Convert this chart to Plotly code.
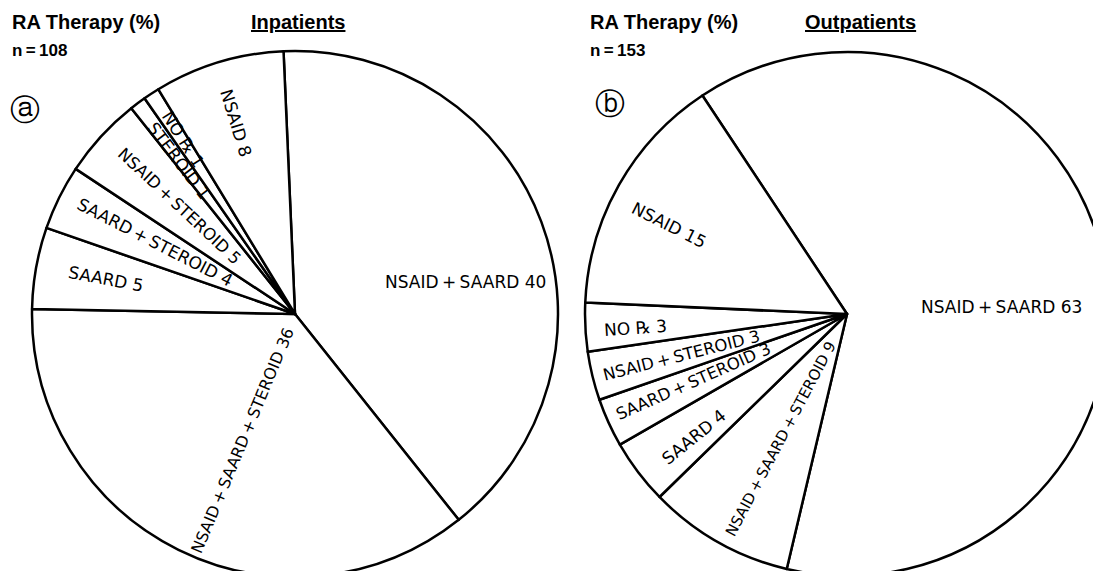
import math
import plotly.graph_objects as go

W, H = 1101, 571
OFF = 8  # page body margin: the figure is drawn 8px right/down of the window origin

# ---------------- data ----------------
in_labels = ["NSAID + SAARD", "NSAID + SAARD + STEROID", "SAARD", "SAARD + STEROID",
             "NSAID + STEROID", "STEROID", "NO ℞", "NSAID"]
in_values = [40, 36, 5, 4, 5, 1, 1, 8]
in_n = 108

out_labels = ["NSAID + SAARD", "NSAID + SAARD + STEROID", "SAARD", "SAARD + STEROID",
              "NSAID + STEROID", "NO ℞", "NSAID"]
out_values = [63, 9, 4, 3, 3, 3, 15]
out_n = 153

# ---------------- layout / style config ----------------
FONT = "DejaVu Sans"
TFONT = "Liberation Sans"

# pie geometry in window pixels (from top-left): centre x, centre y, radius, rotation
PIES = [
    dict(cx=295, cy=314, r=263, rotation=-2.5),
    dict(cx=847, cy=314, r=262, rotation=-33.5),
]
# per-label placement: (angle offset deg, radius fraction, orientation, font size)
in_label_style = [(-10, 0.66, "h", 17), (3.7, 0.52, "r", 16), (-0.5, 0.73, "r", 17),
                  (-0.9, 0.60, "r", 17), (-0.6, 0.60, "r", 16.5), (0.5, 0.73, "r", 17),
                  (-0.5, 0.79, "r", 17), (0.3, 0.76, "r", 17)]
out_label_style = [(-7.5, 0.59, "h", 17), (1.6, 0.54, "r", 15), (1.7, 0.75, "r", 17),
                   (-0.7, 0.64, "r", 16.5), (0.5, 0.65, "r", 16.5), (0.9, 0.81, "r", 17),
                   (2.8, 0.76, "r", 17)]

TS = "\u2009"  # thin space used around "+" and "="


def px_to_paper(X, Y):
    return (X - OFF) / W, 1 - (Y - OFF) / H


def domain_of(p):
    fx = p["cx"] - OFF
    fyb = H - (p["cy"] - OFF)
    return dict(x=[max(0, (fx - p["r"]) / W), min(1, (fx + p["r"]) / W)],
                y=[max(0, (fyb - p["r"]) / H), min(1, (fyb + p["r"]) / H)])


fig = go.Figure()
for p, labels, values in [(PIES[0], in_labels, in_values), (PIES[1], out_labels, out_values)]:
    fig.add_trace(go.Pie(
        labels=labels, values=values, sort=False, direction="clockwise",
        rotation=p["rotation"], domain=domain_of(p),
        marker=dict(colors=["white"] * len(values), line=dict(color="black", width=2.5)),
        textinfo="none", hoverinfo="skip", showlegend=False,
    ))

annotations = []


def add_labels(p, labels, values, styles):
    total = sum(values)
    start = 90 - p["rotation"]
    cum = 0
    for lab, v, (doff, frac, orient, size) in zip(labels, values, styles):
        mid = start - (cum + v / 2) / total * 360 + doff
        cum += v
        th = math.radians(mid)
        X = p["cx"] + p["r"] * frac * math.cos(th)
        Y = p["cy"] - p["r"] * frac * math.sin(th)
        x, y = px_to_paper(X, Y)
        ang = 0 if orient == "h" else math.degrees(math.atan2(math.sin(th), -math.cos(th)))
        text = f"{lab} {v}".replace(" + ", f"{TS}+{TS}")
        annotations.append(dict(
            x=x, y=y, xref="paper", yref="paper", text=text,
            showarrow=False, textangle=ang, xanchor="center", yanchor="middle",
            font=dict(family=FONT, size=size, color="black")))


add_labels(PIES[0], in_labels, in_values, in_label_style)
add_labels(PIES[1], out_labels, out_values, out_label_style)


def txt(X, Y, text, size, bold=True, anchor="left", family=TFONT):
    x, y = px_to_paper(X, Y)
    annotations.append(dict(
        x=x, y=y, xref="paper", yref="paper", showarrow=False,
        text=(f"<b>{text}</b>" if bold else text), xanchor=anchor, yanchor="middle",
        font=dict(family=family, size=size, color="black")))


txt(10, 22, "RA Therapy (%)", 20)
txt(10, 50, f"n{TS}={TS}{in_n}", 17)
txt(298, 22, "<u>Inpatients</u>", 20, anchor="center")
txt(25, 109, "ⓐ", 30, bold=False, anchor="center", family="DejaVu Sans")

txt(588, 22, "RA Therapy (%)", 20)
txt(588, 50, f"n{TS}={TS}{out_n}", 17)
txt(860, 22, "<u>Outpatients</u>", 20, anchor="center")
txt(610, 103, "ⓑ", 30, bold=False, anchor="center", family="DejaVu Sans")

fig.update_layout(
    width=W, height=H, margin=dict(l=0, r=0, t=0, b=0),
    paper_bgcolor="white", plot_bgcolor="white",
    annotations=annotations,
)

fig.write_html("out.html")
